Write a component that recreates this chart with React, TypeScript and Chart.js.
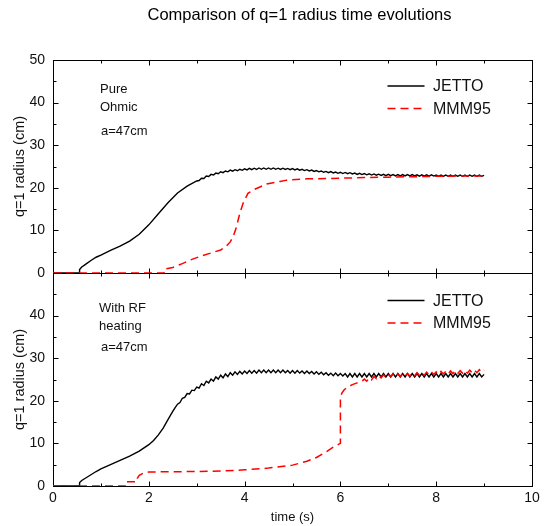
import React, { useEffect, useRef } from 'react';
import { Chart, registerables } from 'chart.js';

Chart.register(...registerables);

const FONT = "'Liberation Sans', Arial, Helvetica, sans-serif";

const TITLE = 'Comparison of q=1 radius time evolutions';
const X_TITLE = 'time (s)';
const Y_TITLE = 'q=1 radius (cm)';
const SERIES_NAMES = ['JETTO', 'MMM95'];
const X_TICKS = [0, 2, 4, 6, 8, 10];
const Y_TICKS = [0, 10, 20, 30, 40, 50];
const TOP_NOTES = ['Pure', 'Ohmic', 'a=47cm'];
const BOT_NOTES = ['With RF', 'heating', 'a=47cm'];

const RIPPLE_STEP = 0.05;

// ---- Top panel (Pure Ohmic) : JETTO ----
const ohmJettoT = [0, 0.55, 0.555, 0.6, 0.65, 0.7, 0.8, 0.9, 1.0, 1.2, 1.4, 1.6, 1.8, 2.0, 2.2, 2.4, 2.6, 2.8, 3.0];
const ohmJettoV = [0, 0, 0.8, 1.4, 1.8, 2.2, 3.0, 3.7, 4.2, 5.3, 6.3, 7.5, 9.1, 11.3, 13.9, 16.5, 18.8, 20.4, 21.6];
const ohmJettoRippleStart = 3.05;
const ohmJettoRipple = [
  21.7, 22.25, 22.2, 22.75, 22.65, 23.15, 23.0, 23.45, 23.3, 23.75,
  23.55, 23.95, 23.75, 24.15, 23.9, 24.25, 24.0, 24.35, 24.1, 24.45,
  24.2, 24.55, 24.25, 24.6, 24.3, 24.65, 24.35, 24.65, 24.35, 24.65,
  24.35, 24.65, 24.35, 24.6, 24.3, 24.6, 24.3, 24.55, 24.25, 24.5,
  24.2, 24.45, 24.15, 24.35, 24.05, 24.25, 23.95, 24.15, 23.85, 24.05,
  23.75, 23.95, 23.65, 23.85, 23.55, 23.8, 23.5, 23.7, 23.4, 23.65,
  23.35, 23.6, 23.3, 23.55, 23.25, 23.45, 23.15, 23.4, 23.1, 23.35,
  23.05, 23.3, 23.0, 23.25, 22.95, 23.2, 22.9, 23.15, 22.85, 23.15,
  22.85, 23.1, 22.8, 23.1, 22.8, 23.1, 22.8, 23.1, 22.8, 23.1,
  22.8, 23.05, 22.75, 23.05, 22.75, 23.05, 22.75, 23.05, 22.75, 23.0,
  22.7, 23.0, 22.7, 23.0, 22.7, 23.0, 22.7, 23.0, 22.7, 23.0,
  22.7, 23.0, 22.7, 23.0, 22.7, 23.0, 22.7, 23.0, 22.7, 22.9,
];

// ---- Top panel : MMM95 ----
const ohmMmmT = [0, 2.32, 2.325, 2.5, 2.7, 2.9, 3.1, 3.3, 3.5, 3.6, 3.7, 3.76, 3.83, 3.9, 3.97, 4.07, 4.18, 4.32, 4.46, 4.74, 4.88, 5.3, 6.0, 6.5, 7.0, 7.5, 8.0, 8.5, 9.0];
const ohmMmmV = [0, 0, 0.9, 1.3, 2.2, 3.2, 4.0, 4.7, 5.4, 6.1, 7.3, 8.5, 10.8, 14.0, 16.4, 18.7, 19.5, 20.2, 20.9, 21.5, 21.8, 22.1, 22.25, 22.4, 22.5, 22.6, 22.7, 22.75, 22.8];

// ---- Bottom panel (With RF heating) : JETTO ----
const rfJettoT = [0, 0.55, 0.555, 0.6, 0.7, 0.8, 0.9, 1.0, 1.2, 1.4, 1.6, 1.8, 2.0, 2.1, 2.2, 2.3, 2.4, 2.5, 2.55];
const rfJettoV = [0, 0, 0.8, 1.3, 2.0, 2.7, 3.4, 4.0, 5.0, 6.0, 7.0, 8.2, 9.7, 10.7, 12.0, 13.6, 15.6, 17.5, 18.4];
const rfJettoRippleStart = 2.6;
const rfJettoRipple = [
  19.2, 19.6, 20.6, 20.8, 21.7, 21.6, 22.5, 22.4, 23.2, 23.0,
  24.0, 23.6, 24.6, 24.2, 25.1, 24.6, 25.6, 25.1, 26.0, 25.4,
  26.3, 25.7, 26.6, 26.0, 26.8, 26.2, 26.9, 26.3, 27.0, 26.4,
  27.1, 26.5, 27.1, 26.5, 27.2, 26.6, 27.2, 26.6, 27.2, 26.6,
  27.2, 26.6, 27.2, 26.6, 27.2, 26.6, 27.1, 26.5, 27.1, 26.5,
  27.1, 26.5, 27.0, 26.4, 27.0, 26.4, 26.9, 26.3, 26.8, 26.2,
  26.7, 26.1, 26.6, 26.0, 26.5, 25.9, 26.5, 25.9, 26.4, 25.8,
  26.4, 25.6, 26.4, 25.6, 26.4, 25.6, 26.4, 25.6, 26.4, 25.6,
  26.4, 25.6, 26.4, 25.6, 26.4, 25.6, 26.4, 25.6, 26.4, 25.6,
  26.4, 25.6, 26.4, 25.6, 26.4, 25.6, 26.4, 25.6, 26.4, 25.6,
  26.4, 25.6, 26.4, 25.6, 26.4, 25.6, 26.4, 25.6, 26.4, 25.6,
  26.4, 25.6, 26.4, 25.6, 26.4, 25.6, 26.4, 25.6, 26.4, 25.6,
  26.4, 25.6, 26.4, 25.6, 26.4, 25.6, 26.4, 25.6, 26.2,
];

// ---- Bottom panel : MMM95 ----
const rfMmmT = [0, 1.52, 1.525, 1.75, 1.76, 1.8, 1.9, 2.0, 2.5, 3.0, 3.5, 4.0, 4.5, 5.0, 5.3, 5.5, 5.7, 5.85, 5.95, 6.0, 6.0, 6.03, 6.08, 6.15, 6.25, 6.35, 6.45];
const rfMmmV = [0, 0, 1.0, 1.0, 1.8, 2.5, 3.1, 3.3, 3.35, 3.4, 3.5, 3.8, 4.2, 4.9, 5.8, 6.7, 8.0, 9.1, 9.7, 10.0, 20.8, 21.8, 22.6, 23.2, 23.8, 24.2, 24.6];
const rfMmmRippleStart = 6.5;
const rfMmmRipple = [
  25.1, 24.6, 25.4, 24.9, 25.7, 25.2, 25.9, 25.4, 26.1, 25.5,
  26.2, 25.6, 26.3, 25.7, 26.3, 25.7, 26.4, 25.8, 26.4, 25.8,
  26.5, 25.9, 26.6, 26.0, 26.6, 26.0, 26.7, 26.1, 26.8, 26.2,
  26.8, 26.2, 26.9, 26.3, 26.9, 26.3, 27.0, 26.4, 27.0, 26.4,
  27.1, 26.5, 27.1, 26.5, 27.2, 26.6, 27.2, 26.6, 27.3, 26.7,
  27.2,
];

const toPts = (ts: number[], vs: number[]) => ts.map((t, i) => ({ x: t, y: vs[i] }));
const ripplePts = (start: number, vs: number[]) =>
  vs.map((v, i) => ({ x: Math.round((start + i * RIPPLE_STEP) * 1000) / 1000, y: v }));

const ohmJetto = [...toPts(ohmJettoT, ohmJettoV), ...ripplePts(ohmJettoRippleStart, ohmJettoRipple)];
const ohmMmm = toPts(ohmMmmT, ohmMmmV);
const rfJetto = [...toPts(rfJettoT, rfJettoV), ...ripplePts(rfJettoRippleStart, rfJettoRipple)];
const rfMmm = [...toPts(rfMmmT, rfMmmV), ...ripplePts(rfMmmRippleStart, rfMmmRipple)];

const BLACK = '#000000';
const RED = '#ff0000';
const DASH = [8, 5];

const overlay = {
  id: 'overlay',
  beforeDatasetsDraw(chart: any) {
    const ctx = chart.ctx as CanvasRenderingContext2D;
    const { left, right } = chart.chartArea;
    const xs = chart.scales.x;
    ctx.save();
    ctx.strokeStyle = '#000';
    ctx.lineWidth = 1;
    const line = (x1: number, y1: number, x2: number, y2: number) => {
      ctx.beginPath();
      ctx.moveTo(x1, y1);
      ctx.lineTo(x2, y2);
      ctx.stroke();
    };
    for (const id of ['yTop', 'yBot']) {
      const ys = chart.scales[id];
      const top = Math.round(ys.top) + 0.5;
      const bottom = Math.round(ys.bottom) + 0.5;
      const l = Math.round(left) + 0.5;
      const r = Math.round(right) + 0.5;
      ctx.strokeRect(l, top, r - l, bottom - top);
      for (let v = 0; v <= 10; v++) {
        const px = Math.round(xs.getPixelForValue(v)) + 0.5;
        const len = v % 2 === 0 ? 5 : 3;
        line(px, top, px, top + len);
        line(px, bottom, px, bottom - len);
      }
      for (let v = 0; v <= 50; v += 5) {
        const py = Math.round(ys.getPixelForValue(v)) + 0.5;
        const len = v % 10 === 0 ? 5 : 3;
        line(l, py, l + len, py);
        line(r, py, r - len, py);
      }
    }
    ctx.restore();
  },
  afterDraw(chart: any) {
    const ctx = chart.ctx as CanvasRenderingContext2D;
    const { left, right } = chart.chartArea;
    ctx.save();
    // Title
    ctx.fillStyle = '#000';
    ctx.font = `16.5px ${FONT}`;
    ctx.textAlign = 'center';
    ctx.textBaseline = 'alphabetic';
    ctx.fillText(TITLE, 299.5, 20);

    const panels = [
      { id: 'yTop', notes: TOP_NOTES, noteY: [33.3, 50.7, 75], noteX: [47, 47, 48], legY: [26, 48.5] },
      { id: 'yBot', notes: BOT_NOTES, noteY: [39, 56.5, 77.5], noteX: [46, 46, 48], legY: [27.5, 50] },
    ];
    for (const p of panels) {
      const ys = chart.scales[p.id];
      const top = ys.top;
      // notes
      ctx.font = `13px ${FONT}`;
      ctx.textAlign = 'left';
      ctx.textBaseline = 'alphabetic';
      ctx.fillStyle = '#111';
      p.notes.forEach((n, i) => ctx.fillText(n, left + p.noteX[i], top + p.noteY[i]));
      // legend
      const x1 = right - 144.5;
      const x2 = right - 107.5;
      SERIES_NAMES.forEach((name, i) => {
        const y = top + p.legY[i];
        ctx.beginPath();
        ctx.lineWidth = 1.6;
        ctx.strokeStyle = i === 0 ? BLACK : RED;
        ctx.setLineDash(i === 0 ? [] : DASH);
        ctx.moveTo(x1, y);
        ctx.lineTo(x2, y);
        ctx.stroke();
        ctx.setLineDash([]);
        ctx.font = `16px ${FONT}`;
        ctx.fillStyle = '#111';
        ctx.textBaseline = 'middle';
        ctx.fillText(name, right - 99, y + 1);
      });
    }
    ctx.restore();
  },
};

export default function App() {
  const ref = useRef<HTMLCanvasElement>(null);
  useEffect(() => {
    if (!ref.current) return;
    const yCommon = (hideTop: boolean) => ({
      type: 'linear' as const,
      position: 'left' as const,
      stack: 'panels',
      stackWeight: 1,
      min: 0,
      max: 50,
      grid: { display: false, drawTicks: false },
      border: { display: false },
      afterBuildTicks: (s: any) => {
        s.ticks = Y_TICKS.map((v) => ({ value: v }));
      },
      ticks: {
        padding: 8,
        color: '#111',
        font: { family: FONT, size: 14 },
        callback: (v: any) => (hideTop && v === 50 ? '' : String(v)),
      },
      title: {
        display: true,
        text: Y_TITLE,
        color: '#111',
        font: { family: FONT, size: 14.5 },
        padding: { top: 11, bottom: 0 },
      },
      afterFit: (s: any) => {
        s.width = 53;
      },
    });
    const chart = new Chart(ref.current, {
      type: 'line',
      data: {
        datasets: [
          { label: SERIES_NAMES[1], data: ohmMmm, xAxisID: 'x', yAxisID: 'yTop', borderColor: RED, borderDash: DASH, borderWidth: 1.5, pointRadius: 0, fill: false, tension: 0 },
          { label: SERIES_NAMES[0], data: ohmJetto, xAxisID: 'x', yAxisID: 'yTop', borderColor: BLACK, borderWidth: 1.4, pointRadius: 0, fill: false, tension: 0 },
          { label: SERIES_NAMES[1], data: rfMmm, xAxisID: 'x', yAxisID: 'yBot', borderColor: RED, borderDash: DASH, borderWidth: 1.5, pointRadius: 0, fill: false, tension: 0 },
          { label: SERIES_NAMES[0], data: rfJetto, xAxisID: 'x', yAxisID: 'yBot', borderColor: BLACK, borderWidth: 1.4, pointRadius: 0, fill: false, tension: 0 },
        ] as any,
      },
      options: {
        responsive: false,
        maintainAspectRatio: false,
        animation: false,
        devicePixelRatio: 1,
        events: [],
        layout: { padding: { left: 0, right: 20, top: 60, bottom: 0 } },
        plugins: {
          legend: { display: false },
          tooltip: { enabled: false },
          title: { display: false },
        },
        scales: {
          x: {
            type: 'linear',
            position: 'bottom',
            min: 0,
            max: 10,
            grid: { display: false, drawTicks: false },
            border: { display: false },
            afterBuildTicks: (s: any) => {
              s.ticks = X_TICKS.map((v) => ({ value: v }));
            },
            ticks: {
              padding: 4,
              color: '#111',
              font: { family: FONT, size: 14 },
              maxRotation: 0,
            },
            title: {
              display: true,
              text: X_TITLE,
              color: '#111',
              font: { family: FONT, size: 13 },
              padding: { top: 0, bottom: 1 },
            },
            afterFit: (s: any) => {
              s.height = 40;
            },
          },
          yBot: yCommon(true),
          yTop: yCommon(false),
        } as any,
      },
      plugins: [overlay],
    });
    return () => chart.destroy();
  }, []);
  return (
    <div style={{ position: 'absolute', left: 0, top: 0, width: 552, height: 526, background: '#fff' }}>
      <canvas ref={ref} width={552} height={526} style={{ display: 'block', width: 552, height: 526 }} />
    </div>
  );
}
